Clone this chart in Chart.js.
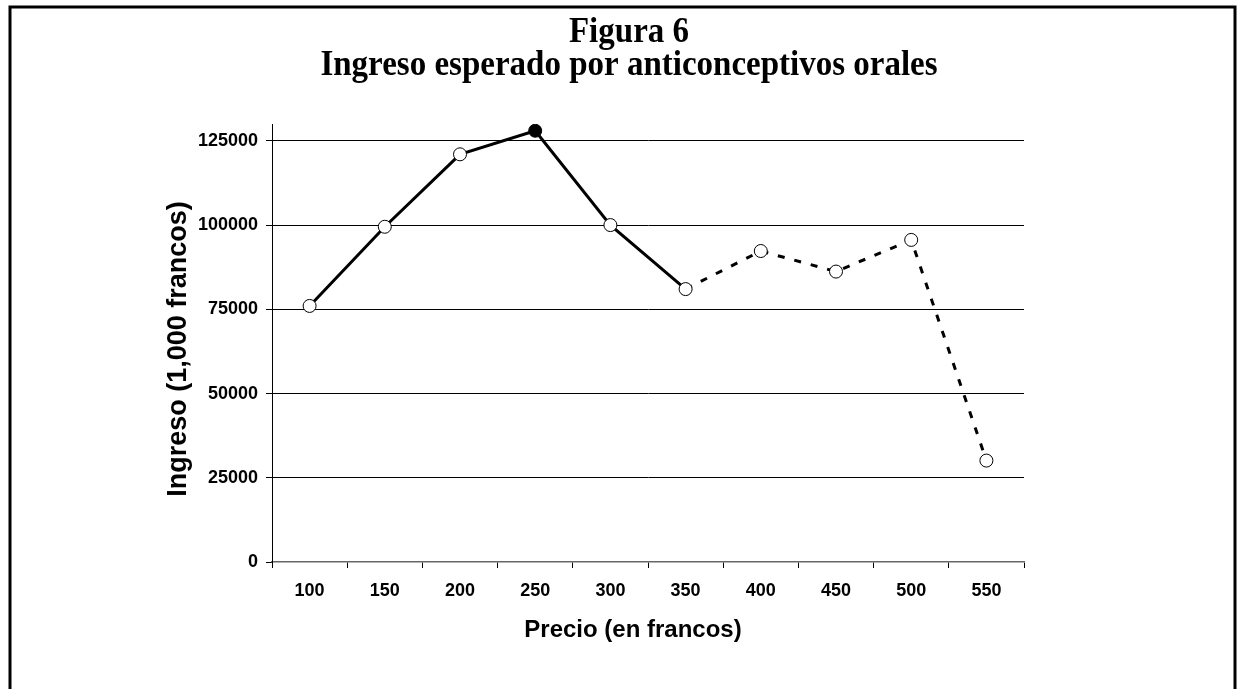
<!DOCTYPE html>
<html><head><meta charset="utf-8">
<script src="https://cdn.jsdelivr.net/npm/chart.js@4.4.1/dist/chart.umd.min.js"></script>
<style>html,body{margin:0;padding:0;background:#fff;} canvas{display:block;}</style>
</head><body>
<canvas id="c" width="1246" height="689"></canvas>
<script>
// ---- data ----
const prices = ['100', '150', '200', '250', '300', '350', '400', '450', '500', '550'];
const ingreso = [76000, 99500, 121000, 128000, 100000, 81000, 92300, 86200, 95600, 30100];
const yTickValues = [0, 25000, 50000, 75000, 100000, 125000];
const titleLines = ['Figura 6', 'Ingreso esperado por anticonceptivos orales'];
const xTitle = 'Precio (en francos)';
const yTitle = 'Ingreso (1,000 francos)';
const dashedFrom = 5;   // segments starting at this index are dashed
const peakIndex = 3;    // highlighted (filled) point

const SANS = '"Liberation Sans", Arial, sans-serif';
const SERIF = '"Liberation Serif", "Times New Roman", serif';

const decor = {
  id: 'decor',
  beforeDraw(chart) {
    const ctx = chart.ctx;
    ctx.save();
    ctx.fillStyle = '#fff';
    ctx.fillRect(0, 0, chart.width, chart.height);
    ctx.strokeStyle = '#000';
    ctx.lineWidth = 3;
    ctx.strokeRect(10, 7, 1225, 720);
    ctx.restore();
  },
  afterDraw(chart) {
    const ctx = chart.ctx;
    ctx.save();
    ctx.fillStyle = '#000';
    // main title
    ctx.font = 'bold 33px ' + SERIF;
    ctx.textAlign = 'center';
    ctx.textBaseline = 'alphabetic';
    const baselines = [42, 75];
    titleLines.forEach((t, i) => {
      ctx.save();
      ctx.translate(629, baselines[i]);
      ctx.scale(1, 1.08);
      ctx.fillText(t, 0, 0);
      ctx.restore();
    });
    // x title
    ctx.font = 'bold 24px ' + SANS;
    ctx.fillText(xTitle, 633, 637);
    // y title (rotated)
    ctx.save();
    ctx.translate(179, 349);
    ctx.rotate(-Math.PI / 2);
    ctx.font = 'bold 27px ' + SANS;
    ctx.textBaseline = 'middle';
    ctx.fillText(yTitle, 0, 0);
    ctx.restore();
    ctx.restore();
  }
};

new Chart(document.getElementById('c'), {
  type: 'line',
  data: {
    labels: prices,
    datasets: [{
      data: ingreso,
      borderColor: '#000',
      borderWidth: 3,
      fill: false,
      tension: 0,
      pointRadius: 6.5,
      pointBorderWidth: 1,
      pointBorderColor: '#000',
      pointBackgroundColor: ingreso.map((v, i) => i === peakIndex ? '#000' : '#fff'),
      segment: {
        borderDash: c => c.p0DataIndex >= dashedFrom ? [7, 10] : []
      }
    }]
  },
  options: {
    responsive: false,
    animation: false,
    devicePixelRatio: 1,
    layout: { padding: { left: 0, top: 124, right: 222, bottom: 0 } },
    plugins: { legend: { display: false }, tooltip: { enabled: false }, title: { display: false } },
    scales: {
      x: {
        type: 'category',
        offset: true,
        grid: { offset: true, drawOnChartArea: false, drawTicks: true, tickLength: 6, color: '#000', tickColor: '#000' },
        border: { display: true, color: '#666', width: 1.5 },
        ticks: { color: '#000', padding: 12, font: { family: SANS, size: 18, weight: 'bold' }, maxRotation: 0, autoSkip: false },
        afterFit(s) { s.height = 127; }
      },
      y: {
        min: 0,
        max: 130000,
        afterBuildTicks(s) { s.ticks = yTickValues.map(v => ({ value: v })); },
        grid: {
          color: c => (c.tick && c.tick.value === 0) ? 'rgba(0,0,0,0)' : '#000',
          tickColor: '#000',
          lineWidth: 1,
          tickLength: 6
        },
        border: { display: true, color: '#000', width: 1 },
        ticks: { color: '#000', padding: 8, font: { family: SANS, size: 18, weight: 'bold' }, callback: v => String(v) },
        afterFit(s) { s.width = 272; }
      }
    }
  },
  plugins: [decor]
});
</script>
</body></html>
